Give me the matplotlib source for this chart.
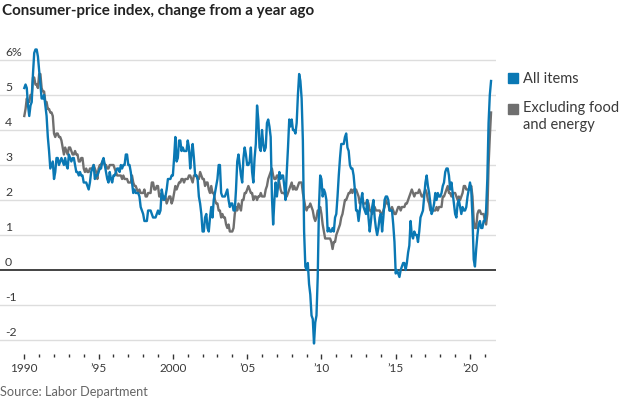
import matplotlib
matplotlib.use("Agg")
import matplotlib.pyplot as plt
import numpy as np

# monthly year-over-year change, Jan 1990 - Jun 2021
all_items = [
    5.2, 5.3, 5.2, 4.7, 4.4, 4.7, 4.8, 5.6, 6.2, 6.3, 6.3, 6.1,
    5.7, 5.3, 4.9, 4.9, 5.0, 4.7, 4.4, 3.8, 3.4, 2.9, 3.0, 3.1,
    2.6, 2.8, 3.2, 3.2, 3.0, 3.1, 3.2, 3.1, 3.0, 3.2, 3.0, 2.9,
    3.3, 3.2, 3.1, 3.2, 3.2, 3.0, 2.8, 2.8, 2.7, 2.8, 2.7, 2.7,
    2.5, 2.5, 2.5, 2.4, 2.3, 2.5, 2.8, 2.9, 3.0, 2.6, 2.7, 2.7,
    2.8, 2.9, 2.9, 3.1, 3.2, 3.0, 2.8, 2.6, 2.5, 2.8, 2.6, 2.5,
    2.7, 2.7, 2.8, 2.9, 2.9, 2.8, 3.0, 2.9, 3.0, 3.0, 3.3, 3.3,
    3.0, 3.0, 2.8, 2.5, 2.2, 2.3, 2.2, 2.2, 2.2, 2.1, 1.8, 1.7,
    1.6, 1.4, 1.4, 1.4, 1.7, 1.7, 1.7, 1.6, 1.5, 1.5, 1.5, 1.6,
    1.7, 1.6, 1.7, 2.3, 2.1, 2.0, 2.1, 2.3, 2.6, 2.6, 2.6, 2.7,
    2.7, 3.2, 3.8, 3.1, 3.2, 3.7, 3.7, 3.4, 3.5, 3.4, 3.4, 3.4,
    3.7, 3.5, 2.9, 3.3, 3.6, 3.2, 2.7, 2.7, 2.6, 2.1, 1.9, 1.6,
    1.1, 1.1, 1.5, 1.6, 1.2, 1.1, 1.5, 1.8, 1.5, 2.0, 2.2, 2.4,
    2.6, 3.0, 3.0, 2.2, 2.1, 2.1, 2.1, 2.2, 2.3, 2.0, 1.8, 1.9,
    1.9, 1.7, 1.7, 2.3, 3.1, 3.3, 3.0, 2.7, 2.5, 3.2, 3.5, 3.3,
    3.0, 3.0, 3.1, 3.5, 2.8, 2.5, 3.2, 3.6, 4.7, 4.3, 3.5, 3.4,
    4.0, 3.6, 3.4, 3.5, 4.2, 4.3, 4.1, 3.8, 2.1, 1.3, 2.0, 2.5,
    2.1, 2.4, 2.8, 2.6, 2.7, 2.7, 2.4, 2.0, 2.8, 3.5, 4.3, 4.1,
    4.3, 4.0, 4.0, 3.9, 4.2, 5.0, 5.6, 5.4, 4.9, 3.7, 1.1, 0.1,
    0.0, 0.2, -0.4, -0.7, -1.3, -1.4, -2.1, -1.5, -1.3, -0.2, 1.8, 2.7,
    2.6, 2.1, 2.3, 2.2, 2.0, 1.1, 1.2, 1.1, 1.1, 1.2, 1.1, 1.5,
    1.6, 2.1, 2.7, 3.2, 3.6, 3.6, 3.6, 3.8, 3.9, 3.5, 3.4, 3.0,
    2.9, 2.9, 2.7, 2.3, 1.7, 1.7, 1.4, 1.7, 2.0, 2.2, 1.8, 1.7,
    1.6, 2.0, 1.5, 1.1, 1.4, 1.8, 2.0, 1.5, 1.2, 1.0, 1.2, 1.5,
    1.6, 1.1, 1.5, 2.0, 2.1, 2.1, 2.0, 1.7, 1.7, 1.7, 1.3, 0.8,
    -0.1, 0.0, -0.1, -0.2, 0.0, 0.1, 0.2, 0.2, 0.0, 0.2, 0.5, 0.7,
    1.4, 1.0, 0.9, 1.1, 1.0, 1.0, 0.8, 1.1, 1.5, 1.6, 1.7, 2.1,
    2.5, 2.7, 2.4, 2.2, 1.9, 1.6, 1.7, 1.9, 2.2, 2.0, 2.2, 2.1,
    2.1, 2.2, 2.4, 2.5, 2.8, 2.9, 2.9, 2.7, 2.3, 2.5, 2.2, 1.9,
    1.6, 1.5, 1.9, 2.0, 1.8, 1.6, 1.8, 1.7, 1.7, 1.8, 2.1, 2.3,
    2.5, 2.3, 1.5, 0.3, 0.1, 0.6, 1.0, 1.3, 1.4, 1.2, 1.2, 1.4,
    1.4, 1.7, 2.6, 4.2, 5.0, 5.4,
]

core = [
    4.4, 4.6, 4.9, 4.8, 4.8, 5.0, 5.0, 5.5, 5.5, 5.3, 5.3, 5.2,
    5.6, 5.6, 5.2, 5.1, 5.1, 4.8, 4.8, 4.6, 4.6, 4.5, 4.5, 4.4,
    3.9, 3.8, 3.9, 3.9, 3.8, 3.8, 3.7, 3.5, 3.3, 3.5, 3.4, 3.3,
    3.5, 3.5, 3.4, 3.3, 3.3, 3.4, 3.3, 3.3, 3.1, 3.1, 3.2, 3.2,
    2.9, 2.8, 2.9, 2.8, 2.8, 2.9, 2.9, 2.9, 3.0, 2.9, 2.8, 2.6,
    2.9, 3.0, 3.0, 3.1, 3.1, 3.0, 3.0, 2.9, 2.9, 3.0, 3.0, 3.0,
    3.0, 2.9, 2.8, 2.7, 2.7, 2.7, 2.7, 2.6, 2.7, 2.6, 2.6, 2.6,
    2.5, 2.5, 2.5, 2.7, 2.5, 2.4, 2.4, 2.3, 2.2, 2.3, 2.2, 2.2,
    2.2, 2.3, 2.1, 2.1, 2.2, 2.2, 2.2, 2.5, 2.5, 2.3, 2.3, 2.4,
    2.4, 2.1, 2.1, 2.2, 2.0, 2.1, 2.1, 1.9, 2.0, 2.1, 2.1, 1.9,
    2.0, 2.2, 2.4, 2.3, 2.4, 2.5, 2.5, 2.6, 2.6, 2.5, 2.6, 2.6,
    2.6, 2.7, 2.7, 2.6, 2.5, 2.7, 2.7, 2.7, 2.6, 2.6, 2.8, 2.7,
    2.6, 2.6, 2.4, 2.5, 2.5, 2.3, 2.2, 2.4, 2.2, 2.2, 2.0, 1.9,
    1.9, 1.7, 1.7, 1.5, 1.6, 1.5, 1.5, 1.3, 1.2, 1.3, 1.1, 1.1,
    1.1, 1.2, 1.6, 1.8, 1.7, 1.9, 1.8, 1.7, 2.0, 2.0, 2.2, 2.2,
    2.3, 2.4, 2.3, 2.2, 2.2, 2.0, 2.1, 2.1, 2.0, 2.1, 2.1, 2.2,
    2.1, 2.1, 2.1, 2.3, 2.4, 2.6, 2.7, 2.8, 2.9, 2.7, 2.6, 2.6,
    2.7, 2.7, 2.5, 2.3, 2.2, 2.2, 2.2, 2.1, 2.1, 2.2, 2.3, 2.4,
    2.5, 2.3, 2.4, 2.3, 2.3, 2.4, 2.5, 2.5, 2.5, 2.2, 2.0, 1.8,
    1.7, 1.8, 1.8, 1.9, 1.8, 1.7, 1.5, 1.4, 1.5, 1.7, 1.7, 1.8,
    1.6, 1.3, 1.1, 0.9, 0.9, 0.9, 0.9, 0.9, 0.8, 0.6, 0.8, 0.8,
    1.0, 1.1, 1.2, 1.3, 1.5, 1.6, 1.8, 2.0, 2.0, 2.1, 2.2, 2.2,
    2.3, 2.2, 2.3, 2.3, 2.3, 2.2, 2.1, 1.9, 2.0, 2.0, 1.9, 1.9,
    1.9, 2.0, 1.9, 1.7, 1.7, 1.6, 1.7, 1.8, 1.7, 1.7, 1.7, 1.7,
    1.6, 1.6, 1.7, 1.8, 2.0, 1.9, 1.9, 1.7, 1.7, 1.8, 1.7, 1.6,
    1.6, 1.7, 1.8, 1.8, 1.7, 1.8, 1.8, 1.8, 1.9, 1.9, 2.0, 2.1,
    2.2, 2.3, 2.2, 2.1, 2.2, 2.2, 2.2, 2.3, 2.2, 2.1, 2.1, 2.2,
    2.3, 2.2, 2.0, 1.9, 1.7, 1.7, 1.7, 1.7, 1.7, 1.8, 1.7, 1.8,
    1.8, 1.8, 2.1, 2.1, 2.2, 2.3, 2.4, 2.2, 2.2, 2.1, 2.2, 2.2,
    2.2, 2.1, 2.0, 2.1, 2.0, 2.1, 2.2, 2.4, 2.4, 2.3, 2.3, 2.3,
    2.3, 2.4, 2.1, 1.4, 1.2, 1.2, 1.6, 1.7, 1.7, 1.6, 1.6, 1.6,
    1.4, 1.3, 1.6, 3.0, 3.8, 4.5,
]

start_year = 1990
y_ticks = [-2, -1, 0, 1, 2, 3, 4, 5, 6]
y_labels = ["-2", "-1", "0", "1", "2", "3", "4", "5", "6%"]
x_major = [1990, 1995, 2000, 2005, 2010, 2015, 2020]
x_labels = ["1990", "\u201995", "2000", "\u201905", "\u201910", "\u201915", "\u201920"]

BLUE = "#0a78b4"
GRAY = "#6f6f6f"
TEXT = "#3a3a3a"

plt.rcParams["font.family"] = ["Lato", "DejaVu Sans"]

t_all = start_year + np.arange(len(all_items)) / 12
t_core = start_year + np.arange(len(core)) / 12

fig = plt.figure(figsize=(6.2, 4.0), dpi=100)
ax = fig.add_axes([0, (400 - 346) / 400, 496 / 620, (346 - 45) / 400])

px_per_year = (470 - 24.3) / 30
ax.set_xlim(1990 - 24.3 / px_per_year, 1990 + (496 - 24.3) / px_per_year)
ax.set_ylim(-2 - 6 / 35, 6 + 15 / 35)

for v in y_ticks:
    if v == 0:
        ax.axhline(0, color="#222222", lw=1.2, zorder=3)
    else:
        ax.axhline(v, color="#dddddd", lw=1.0, zorder=1)

ax.plot(t_core, core, color=GRAY, lw=1.7, zorder=4, solid_joinstyle="round")
ax.plot(t_all, all_items, color=BLUE, lw=1.7, zorder=5, solid_joinstyle="round")

for v, lab in zip(y_ticks, y_labels):
    ax.text(5 / 496, v + 2 / 35, lab, transform=ax.get_yaxis_transform(),
            ha="left", va="bottom", fontsize=8.8, color=TEXT)

for s in ax.spines.values():
    s.set_visible(False)
ax.spines["bottom"].set_position(("outward", 6))
ax.set_yticks([])
ax.set_xticks(x_major)
ax.set_xticklabels(x_labels)
ax.set_xticks(np.arange(1991, 2022), minor=True)
ax.tick_params(axis="x", which="major", length=3.5, width=1.0, color="#333333",
               labelsize=8.5, labelcolor=TEXT, pad=3)
ax.tick_params(axis="x", which="minor", length=2, width=1.0, color="#333333")

# legend
fig.patches.append(plt.Rectangle((508 / 620, 1 - 83 / 400), 10 / 620, 10 / 400,
                                 transform=fig.transFigure, color=BLUE))
fig.patches.append(plt.Rectangle((508 / 620, 1 - 114 / 400), 10 / 620, 10 / 400,
                                 transform=fig.transFigure, color=GRAY))
fig.text(523 / 620, 1 - 79 / 400, "All items", ha="left", va="center",
         fontsize=10.5, color=TEXT)
fig.text(523 / 620, 1 - 101 / 400, "Excluding food\nand energy", ha="left", va="top",
         fontsize=10.5, color=TEXT, linespacing=1.25)

fig.text(2 / 620, 1 - 11 / 400, "Consumer-price index, change from a year ago",
         ha="left", va="center", fontsize=10.9, fontweight="bold", color="#222222")
fig.text(0, 1 - 392 / 400, "Source: Labor Department", ha="left", va="center",
         fontsize=9.2, color="#666666")

fig.savefig("out.png", dpi=100)
